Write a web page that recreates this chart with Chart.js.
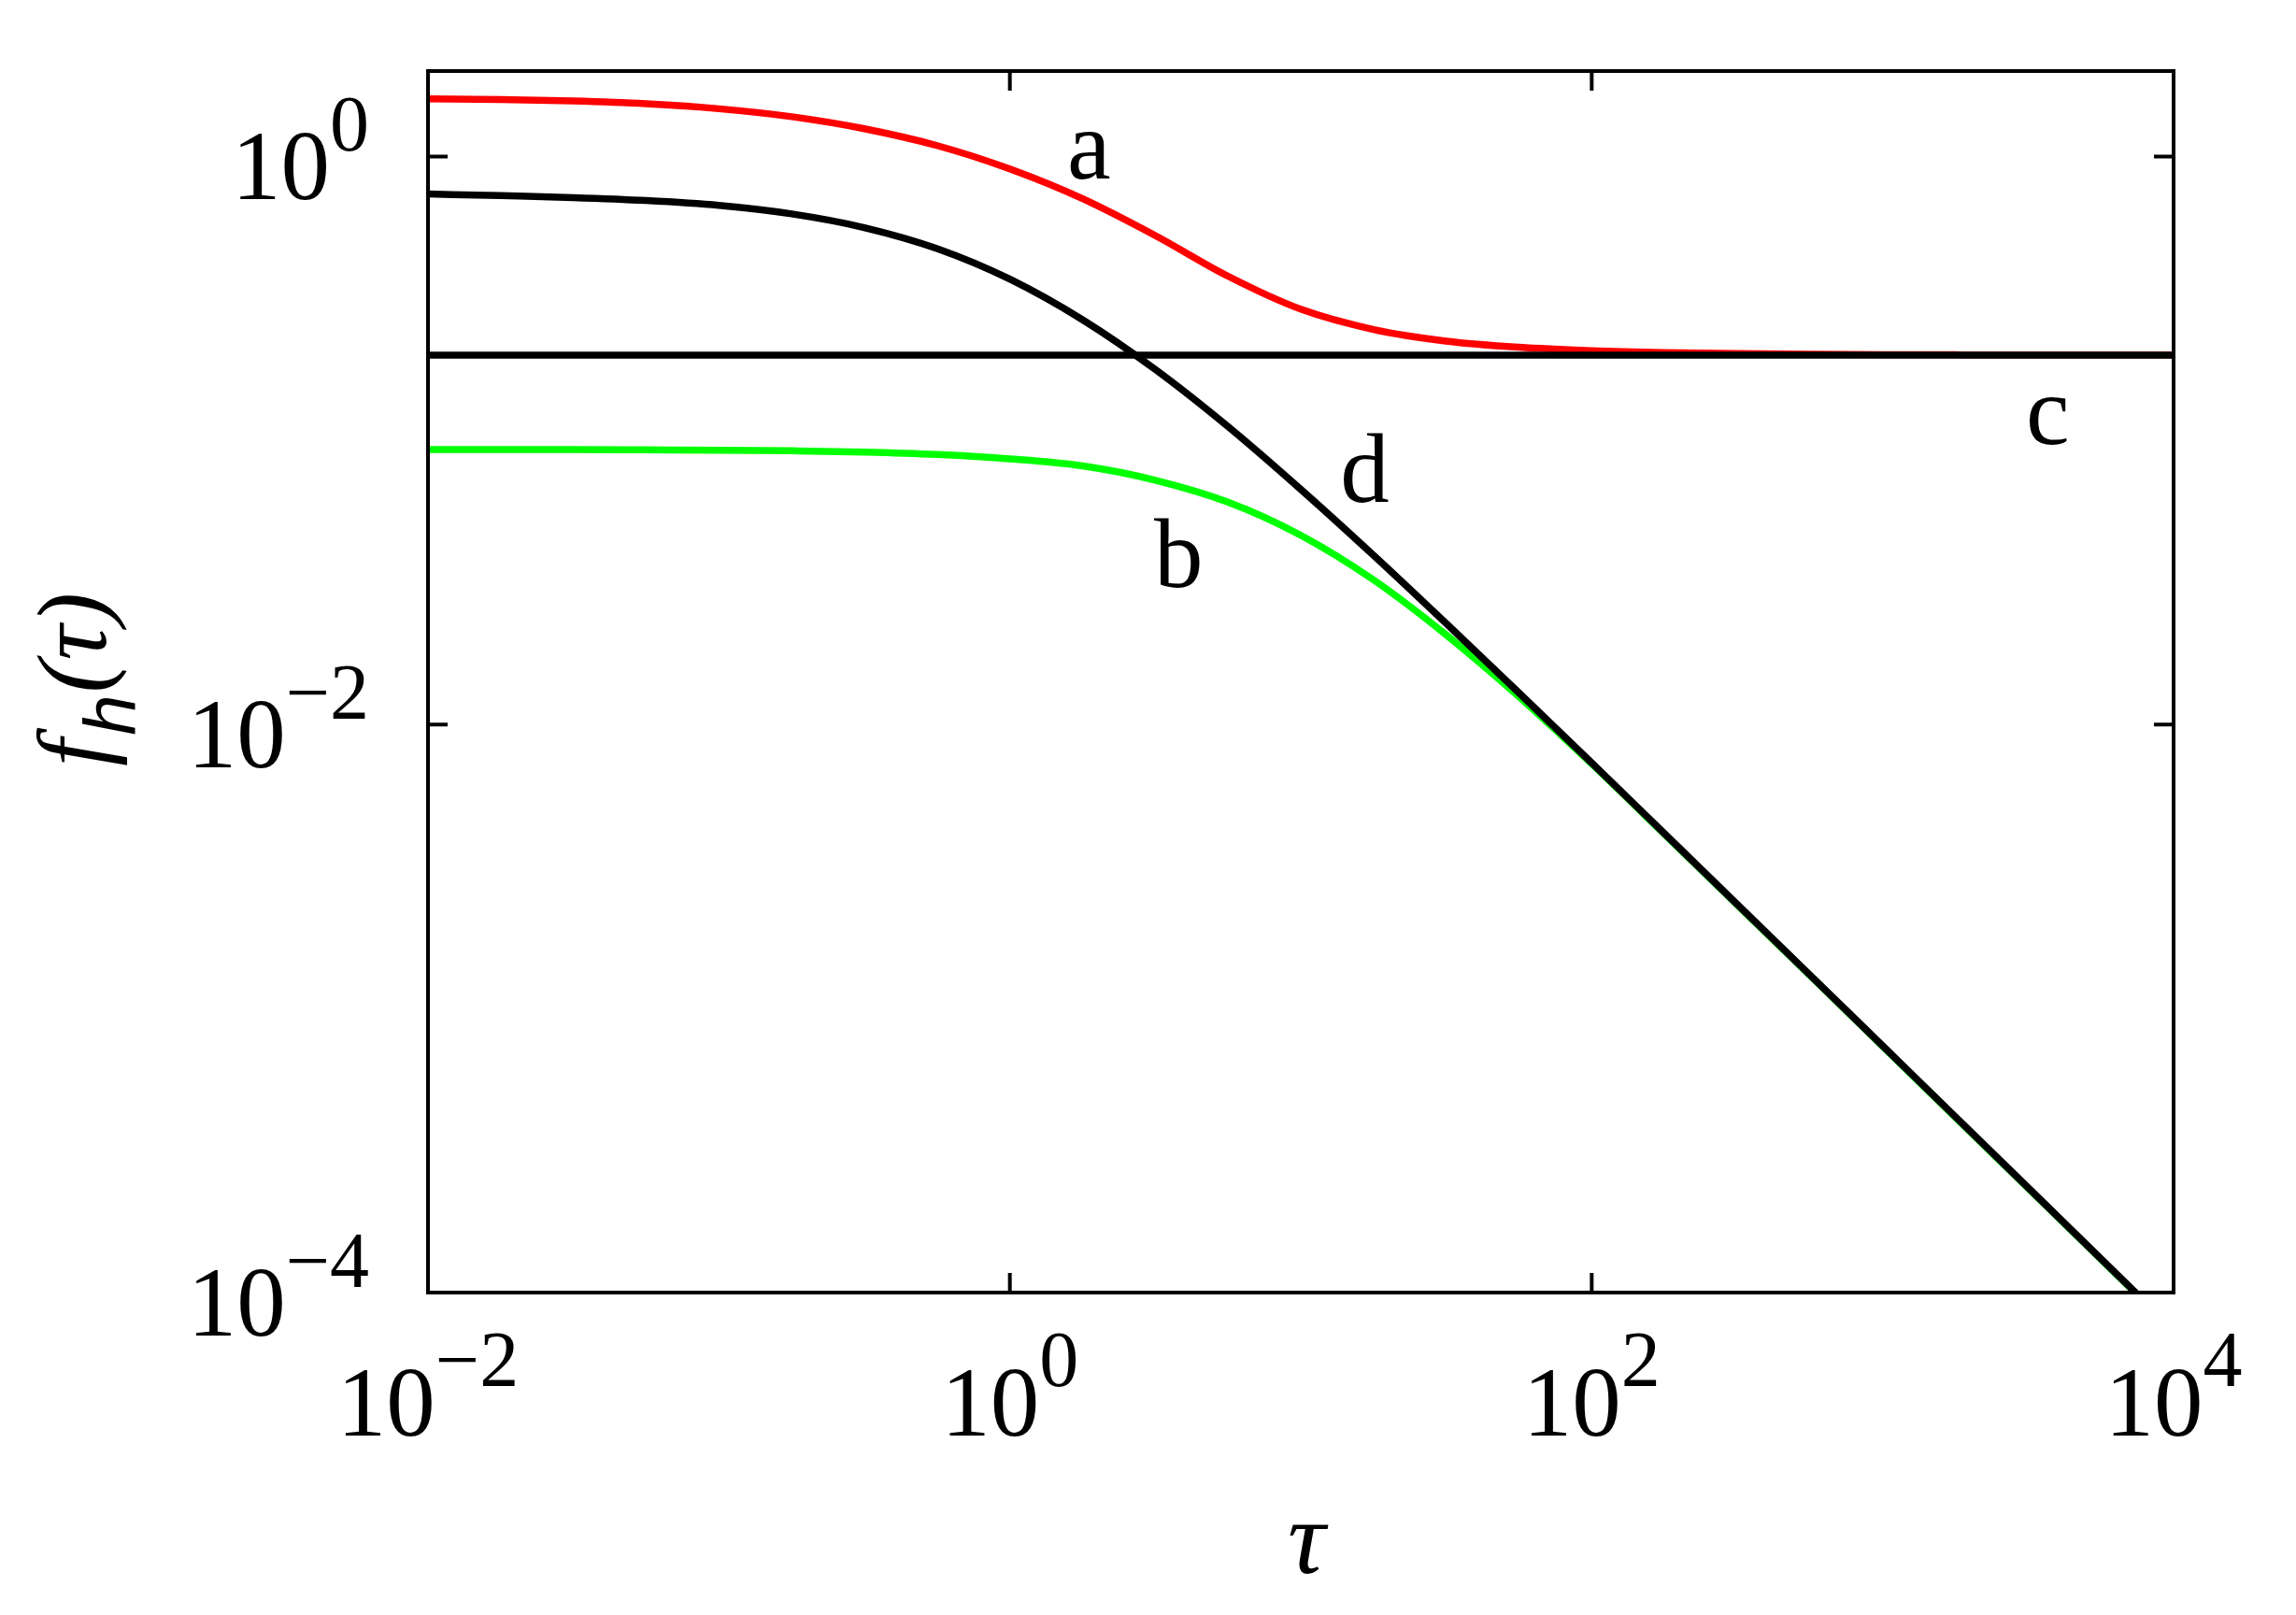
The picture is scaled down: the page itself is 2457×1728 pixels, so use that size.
<!DOCTYPE html>
<html><head><meta charset="utf-8">
<script src="https://cdn.jsdelivr.net/npm/chart.js@4.4.1/dist/chart.umd.min.js"></script>
<style>html,body{margin:0;padding:0;background:#fff;overflow:hidden}canvas{display:block}</style>
</head><body>
<canvas id="c" width="2457" height="1728" style="width:2457px;height:1728px"></canvas>
<script>
// ---- data ----
const tau    = [0.01,0.0178,0.0316,0.0562,0.1,0.178,0.316,0.562,1,1.78,3.16,5.62,10,17.8,31.6,56.2,100,178,316,562,1000,1778,3162,5623,10000];
const curveA = [1.595,1.586,1.568,1.533,1.473,1.381,1.253,1.093,0.904,0.710,0.527,0.379,0.290,0.246,0.224,0.213,0.2072,0.2040,0.2023,0.2013,0.2007,0.2004,0.2002,0.2001,0.2001];
const curveB = [0.0930,0.0929,0.0929,0.0927,0.0925,0.0920,0.0911,0.0893,0.0862,0.0814,0.0725,0.0607,0.0464,0.0323,0.0207,0.01254,0.00727,0.004105,0.002318,0.001310,0.000736,0.000414,0.000233,0.0001310,0.0000737];
const curveD = [0.738,0.728,0.717,0.700,0.673,0.628,0.562,0.474,0.370,0.266,0.178,0.112,0.0673,0.0394,0.0227,0.01294,0.00733,0.00413,0.00233,0.001314,0.000739,0.000416,0.000234,0.0001316,0.0000740];
const cTau   = [0.01,10000];
const curveC = [0.2,0.2];

const xTicks   = [1e-2,1e0,1e2,1e4];
const xTickExp = ['\u22122','0','2','4'];
const yTicks   = [1e-4,1e-2,1e0];
const yTickExp = ['\u22124','\u22122','0'];

const labelText = ['a','b','c','d'];
const labelTau  = [1.87,3.8,3690,16.6];
const labelVal  = [0.836,0.0305,0.0973,0.0608];

const SERIF = '"Liberation Serif","Times New Roman",serif';

function pts(xs, ys){ return xs.map((t,i)=>({x:t,y:ys[i]})); }

const framePlugin = {
  id:'frame',
  afterDatasetsDraw(chart){
    const {ctx, chartArea:a, scales:{x,y}} = chart;
    ctx.save();
    ctx.strokeStyle='#000';
    ctx.lineWidth=4;
    ctx.strokeRect(a.left,a.top,a.right-a.left,a.bottom-a.top);
    const TL=21;
    ctx.beginPath();
    xTicks.forEach(v=>{const px=x.getPixelForValue(v);
      ctx.moveTo(px,a.bottom); ctx.lineTo(px,a.bottom-TL);
      ctx.moveTo(px,a.top); ctx.lineTo(px,a.top+TL);});
    yTicks.forEach(v=>{const py=y.getPixelForValue(v);
      ctx.moveTo(a.left,py); ctx.lineTo(a.left+TL,py);
      ctx.moveTo(a.right,py); ctx.lineTo(a.right-TL,py);});
    ctx.stroke();

    ctx.fillStyle='#000';
    ctx.textBaseline='alphabetic';
    ctx.textAlign='left';
    const base='105px '+SERIF, sup='84px '+SERIF;
    function widths(exp){ ctx.font=base; const w1=ctx.measureText('10').width; ctx.font=sup; const w2=ctx.measureText(exp).width; return [w1,w2]; }
    xTicks.forEach((v,i)=>{
      const px=x.getPixelForValue(v);
      const [w1,w2]=widths(xTickExp[i]);
      const s=px-(w1+w2)/2;
      ctx.font=base; ctx.fillText('10',s,a.bottom+153);
      ctx.font=sup; ctx.fillText(xTickExp[i],s+w1,a.bottom+100);
    });
    yTicks.forEach((v,i)=>{
      const py=y.getPixelForValue(v);
      const [w1,w2]=widths(yTickExp[i]);
      const s=a.left-63-(w1+w2);
      ctx.font=base; ctx.fillText('10',s,py+46);
      ctx.font=sup; ctx.fillText(yTickExp[i],s+w1,py-6);
    });

    // axis titles
    ctx.textAlign='center';
    ctx.font='italic 112px '+SERIF;
    ctx.fillText('\u03C4',(a.left+a.right)/2+6,a.bottom+300);

    ctx.save();
    ctx.translate(113,820);
    ctx.rotate(-Math.PI/2);
    ctx.textAlign='left';
    ctx.font='italic 105px '+SERIF;
    ctx.fillText('f',0,0);
    let w=ctx.measureText('f').width+4;
    ctx.font='italic 78px "Liberation Sans",sans-serif';
    ctx.fillText('h',w,32);
    w+=ctx.measureText('h').width+2;
    ctx.font='italic 105px '+SERIF;
    ctx.fillText('(\u03C4)',w,0);
    ctx.restore();

    // curve labels
    ctx.textAlign='center';
    ctx.font='105px '+SERIF;
    labelText.forEach((t,i)=>{
      ctx.fillText(t,x.getPixelForValue(labelTau[i]),y.getPixelForValue(labelVal[i]));
    });
    ctx.restore();
  }
};

const common = {pointRadius:0, borderWidth:7.5, fill:false, cubicInterpolationMode:'monotone', clip:0};

new Chart(document.getElementById('c'), {
  type:'line',
  data:{datasets:[
    Object.assign({label:'d', data:pts(tau,curveD), borderColor:'#000000', order:0}, common),
    Object.assign({label:'c', data:pts(cTau,curveC), borderColor:'#000000', order:1}, common),
    Object.assign({label:'b', data:pts(tau,curveB), borderColor:'#00ff00', order:2}, common),
    Object.assign({label:'a', data:pts(tau,curveA), borderColor:'#ff0000', order:3}, common)
  ]},
  options:{
    responsive:false,
    devicePixelRatio:1,
    animation:false,
    layout:{padding:{left:458,top:76,right:131,bottom:345}},
    plugins:{legend:{display:false},tooltip:{enabled:false}},
    scales:{
      x:{type:'logarithmic',min:0.01,max:10000,display:false},
      y:{type:'logarithmic',min:1e-4,max:2,display:false}
    }
  },
  plugins:[framePlugin]
});
</script>
</body></html>
